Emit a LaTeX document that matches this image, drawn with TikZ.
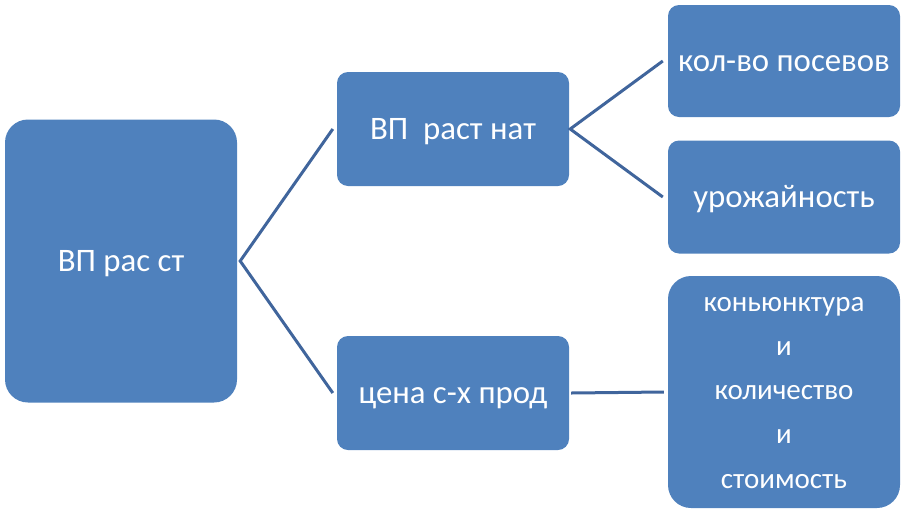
\documentclass[tikz,border=0pt]{standalone}
\usepackage{fontspec}
\setmainfont{Carlito}
\definecolor{boxblue}{HTML}{4F81BD}
\definecolor{lineblue}{HTML}{40659C}
\begin{document}
\begin{tikzpicture}[x=1pt,y=-1pt,
  box/.style={fill=boxblue,text=white,inner sep=0pt,anchor=center,
    font=\fontsize{32.8}{38}\selectfont,text height=21pt,text depth=0pt},
  small/.style={text=white,inner sep=0pt,anchor=base,font=\fontsize{29}{34}\selectfont},
  conn/.style={draw=lineblue,line width=3pt}]
\useasboundingbox (0,0) rectangle (907,512);
\node[box,rounded corners=23pt,minimum width=232pt,minimum height=283pt] (L) at (121,261) {ВП рас ст};
\node[box,rounded corners=11pt,minimum width=232pt,minimum height=114pt] (M1) at (453,129) {ВП\ \ раст нат};
\node[box,rounded corners=11pt,minimum width=232pt,minimum height=114pt] (M2) at (453,393) {цена с-х прод};
\node[box,rounded corners=11pt,minimum width=232pt,minimum height=112pt] (R1) at (784,61) {кол-во посевов};
\node[box,rounded corners=11pt,minimum width=232pt,minimum height=113pt] (R2) at (784,197) {урожайность};
\node[box,rounded corners=23pt,minimum width=232pt,minimum height=232pt] (R3) at (784,392) {};
\node[small] (t1) at (784,311) {коньюнктура};
\node[small] (t2) at (784,355) {и};
\node[small] (t3) at (784,399) {количество};
\node[small] (t4) at (784,443) {и};
\node[small] (t5) at (784,488) {стоимость};
\coordinate (a) at ([xshift=3pt]L.east);
\coordinate (b1) at ([xshift=-4pt]M1.west);
\coordinate (b2) at ([xshift=-4pt]M2.west);
\coordinate (c) at ([xshift=1pt]M1.east);
\coordinate (d1) at ([xshift=-5pt]R1.west);
\coordinate (d2) at ([xshift=-5pt]R2.west);
\coordinate (e) at ([xshift=2pt]M2.east);
\coordinate (f) at ([xshift=-4pt]R3.west);
\draw[conn] (b1) -- (a) -- (b2);
\draw[conn] (d1) -- (c) -- (d2);
\draw[conn] (e) -- (f);
\end{tikzpicture}
\end{document}
